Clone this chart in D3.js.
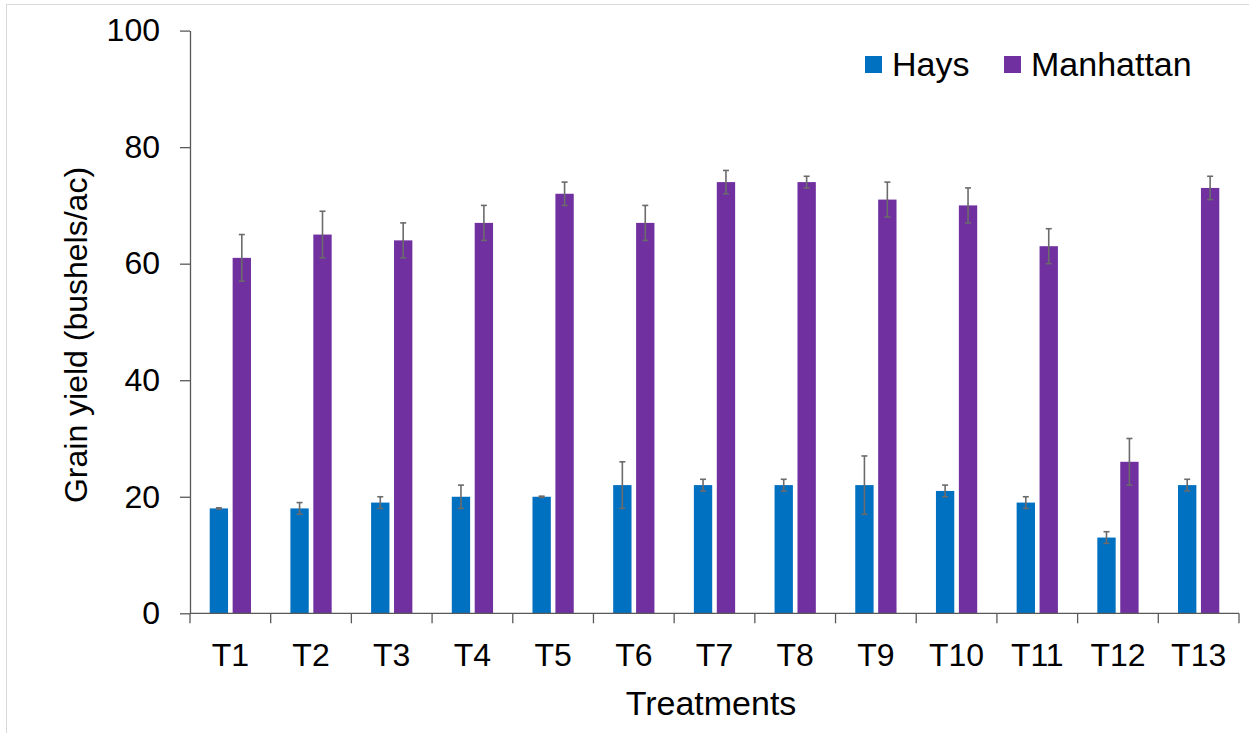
<!DOCTYPE html>
<html>
<head>
<meta charset="utf-8">
<script src="https://cdn.jsdelivr.net/npm/d3@7"></script>
<style>
  html, body { margin: 0; padding: 0; background: #fff; }
  svg { display: block; font-family: "Liberation Sans", Arial, sans-serif; }
</style>
</head>
<body>
<svg id="chart" width="1249" height="733"></svg>
<script>
// Grain yield by treatment at two locations (mean ± error)
const treatments = ["T1","T2","T3","T4","T5","T6","T7","T8","T9","T10","T11","T12","T13"];
const seriesNames = ["Hays", "Manhattan"];
const haysYield = [18, 18, 19, 20, 20, 22, 22, 22, 22, 21, 19, 13, 22];
const haysError = [0.1, 1, 1, 2, 0.1, 4, 1, 1, 5, 1, 1, 1, 1];
const manhattanYield = [61, 65, 64, 67, 72, 67, 74, 74, 71, 70, 63, 26, 73];
const manhattanError = [4, 4, 3, 3, 2, 3, 2, 1, 3, 3, 3, 4, 2];
const yTicks = [0, 20, 40, 60, 80, 100];

const colors = { Hays: "#0070C0", Manhattan: "#7030A0" };
const axisColor = "#595959";

const svg = d3.select("#chart");

// light frame around the chart area
svg.append("rect")
  .attr("x", 6.5).attr("y", 4.5)
  .attr("width", 1260).attr("height", 740)
  .attr("fill", "none").attr("stroke", "#d9d9d9").attr("stroke-width", 1);

const plot = { left: 190, right: 1239, top: 30.6, bottom: 613.3 };

const x0 = d3.scaleBand().domain(treatments).range([plot.left, plot.right]).padding(0);
const x1 = d3.scaleBand().domain(seriesNames).range([0, x0.bandwidth()])
  .paddingInner(0.2).paddingOuter(0.86);
const y = d3.scaleLinear().domain([0, 100]).range([plot.bottom, plot.top]);

const rows = treatments.map((t, i) => ({
  t,
  values: [
    { s: "Hays", v: haysYield[i], e: haysError[i] },
    { s: "Manhattan", v: manhattanYield[i], e: manhattanError[i] }
  ]
}));

// bars
const groups = svg.append("g").selectAll("g").data(rows).join("g")
  .attr("transform", d => `translate(${x0(d.t)},0)`);

groups.selectAll("rect").data(d => d.values).join("rect")
  .attr("x", d => x1(d.s))
  .attr("y", d => y(d.v))
  .attr("width", x1.bandwidth())
  .attr("height", d => y(0) - y(d.v))
  .attr("fill", d => colors[d.s]);

// error bars
const capHalf = 3;
const err = groups.selectAll("g.err").data(d => d.values).join("g").attr("class", "err")
  .attr("stroke", "#6b6b6b").attr("stroke-width", 1.6).attr("fill", "none");
err.append("line")
  .attr("x1", d => x1(d.s) + x1.bandwidth() / 2)
  .attr("x2", d => x1(d.s) + x1.bandwidth() / 2)
  .attr("y1", d => y(d.v - d.e))
  .attr("y2", d => y(d.v + d.e));
err.append("line")
  .attr("x1", d => x1(d.s) + x1.bandwidth() / 2 - capHalf)
  .attr("x2", d => x1(d.s) + x1.bandwidth() / 2 + capHalf)
  .attr("y1", d => y(d.v + d.e))
  .attr("y2", d => y(d.v + d.e));
err.append("line")
  .attr("x1", d => x1(d.s) + x1.bandwidth() / 2 - capHalf)
  .attr("x2", d => x1(d.s) + x1.bandwidth() / 2 + capHalf)
  .attr("y1", d => y(d.v - d.e))
  .attr("y2", d => y(d.v - d.e));

// y axis
const yAxis = svg.append("g")
  .attr("transform", `translate(${plot.left},0)`)
  .call(d3.axisLeft(y).tickValues(yTicks).tickSize(10).tickPadding(20).tickSizeOuter(0));
yAxis.select(".domain").attr("stroke", axisColor).attr("stroke-width", 1.3);
yAxis.selectAll(".tick line").attr("stroke", axisColor).attr("stroke-width", 1.3);
yAxis.selectAll(".tick text")
  .attr("fill", "#000").attr("font-size", 32).attr("font-family", "Liberation Sans, Arial, sans-serif");

// x axis: ticks between categories
const xAxisG = svg.append("g").attr("transform", `translate(0,${plot.bottom})`);
xAxisG.append("line")
  .attr("x1", plot.left).attr("x2", plot.right)
  .attr("stroke", axisColor).attr("stroke-width", 1.3);
const boundaries = treatments.map(t => x0(t)).concat([plot.right]);
xAxisG.selectAll("line.tk").data(boundaries).join("line").attr("class", "tk")
  .attr("x1", d => d).attr("x2", d => d)
  .attr("y1", 0).attr("y2", 10)
  .attr("stroke", axisColor).attr("stroke-width", 1.3);
xAxisG.selectAll("text").data(treatments).join("text")
  .attr("x", d => x0(d) + x0.bandwidth() / 2)
  .attr("y", 53)
  .attr("text-anchor", "middle")
  .attr("font-size", 32)
  .attr("fill", "#000")
  .text(d => d);

// axis titles
svg.append("text")
  .attr("x", 711).attr("y", 715)
  .attr("text-anchor", "middle").attr("font-size", 34).attr("fill", "#000")
  .text("Treatments");
svg.append("text")
  .attr("transform", "translate(87,335) rotate(-90)")
  .attr("text-anchor", "middle").attr("font-size", 32).attr("fill", "#000")
  .text("Grain yield (bushels/ac)");

// legend
const legendItems = [
  { s: "Hays", x: 865 },
  { s: "Manhattan", x: 1004 }
];
const legend = svg.append("g").selectAll("g").data(legendItems).join("g")
  .attr("transform", d => `translate(${d.x},56)`);
legend.append("rect")
  .attr("width", 17).attr("height", 17)
  .attr("fill", d => colors[d.s]);
legend.append("text")
  .attr("x", 27).attr("y", 20)
  .attr("font-size", 34).attr("fill", "#000")
  .text(d => d.s);
</script>
</body>
</html>
